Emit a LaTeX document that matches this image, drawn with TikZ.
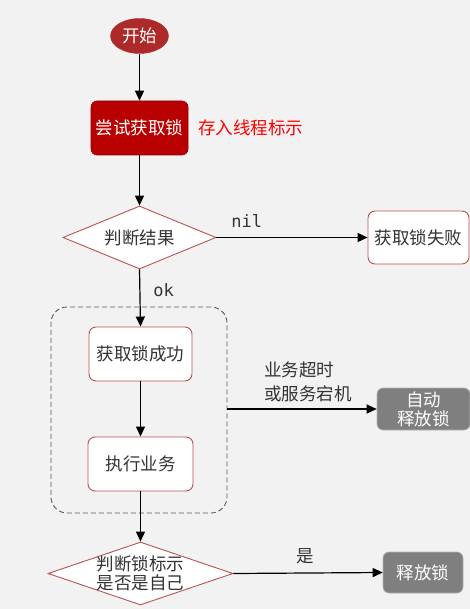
\documentclass[tikz,border=0pt]{standalone}
\usepackage{fontspec}
\setmainfont{Noto Sans CJK SC}
\newfontfamily\monof{DejaVu Sans Mono}
\usetikzlibrary{shapes.geometric,arrows.meta,positioning}
\definecolor{bg}{HTML}{F2F2F2}
\definecolor{txt}{HTML}{333333}
\definecolor{redb}{HTML}{B85450}
\definecolor{startc}{HTML}{AE2A2A}
\definecolor{tryc}{HTML}{B80000}
\definecolor{grayc}{HTML}{7F7F7F}
\tikzset{
  every node/.style={font=\fontsize{17.5}{20}\selectfont, text=txt},
  box/.style={draw=redb, fill=white, rounded corners=7pt, line width=0.9pt, inner sep=0pt},
  graybox/.style={draw=gray!60, fill=grayc, rounded corners=6pt, line width=0.6pt, inner sep=0pt, text=white, align=center},
  dia/.style={diamond, draw=redb, fill=white, line width=0.9pt, inner sep=0pt},
  arr/.style={draw=black, line width=1.2pt, -{Triangle[length=10pt,width=9pt]}},
  lbl/.style={text=txt, inner sep=0pt}
}
\begin{document}
\begin{tikzpicture}[x=1pt,y=-1pt]
\fill[bg] (0,0) rectangle (470,609);
\useasboundingbox (0,0) rectangle (470,609);
% start
\node[ellipse, fill=startc, draw=startc, text=white, minimum width=58pt, minimum height=35pt, inner sep=0pt] (start) at (139.5,36) {开始};
% try
\node[draw=tryc!80!black, fill=tryc, rounded corners=6pt, line width=0.6pt, text=white, minimum width=97pt, minimum height=54pt, inner sep=0pt] (try) at (139.5,128) {尝试获取锁};
\node[lbl, text=red, anchor=west] (store) at (198,128) {存入线程标示};
% diamond 1
\node[dia, minimum width=153pt, minimum height=63pt, shape aspect=2.43] (d1) at (139.5,237.5) {};
\node[lbl] (d1t) at (139.5,237.5) {判断结果};
% fail
\node[box, minimum width=101pt, minimum height=53pt] (fail) at (418.5,237.5) {获取锁失败};
% group
\node[draw=gray!70!black, dashed, dash pattern=on 5pt off 3pt, rounded corners=16pt, line width=0.9pt, minimum width=176pt, minimum height=206pt, inner sep=0pt] (grp) at (139,410) {};
% success
\node[box, minimum width=103pt, minimum height=54pt] (succ) at (140.5,354) {获取锁成功};
% exec
\node[box, minimum width=105pt, minimum height=54pt] (exec) at (140.5,464) {执行业务};
% auto release
\node[graybox, minimum width=93pt, minimum height=42pt, font=\fontsize{17.5}{19}\selectfont] (auto) at (423.5,409) {自动\\释放锁};
% diamond 2
\node[dia, minimum width=185pt, minimum height=63pt, shape aspect=2.94] (d2) at (140.5,573.5) {};
\node[lbl, align=center, font=\fontsize{17.5}{19}\selectfont] (d2t) at (140.5,573) {判断锁标示\\是否是自己};
% release
\node[graybox, minimum width=80pt, minimum height=41pt] (rel) at (423,572.5) {释放锁};
% connectors
\draw[arr] (start) -- (try);
\draw[arr] (try) -- (d1);
\draw[arr] (d1.east) -- (fail.west) node[lbl, pos=0.2, above=9pt, font=\monof\fontsize{17}{19}\selectfont] (nil) {nil};
\draw[arr] (d1.south) -- (succ.north) node[lbl, pos=0.36, right=13pt, font=\monof\fontsize{17}{19}\selectfont] (ok) {ok};
\draw[arr] (succ) -- (exec);
\draw[arr] (exec.south) -- (d2.north);
\coordinate (gout) at (grp.east |- auto.west);
\draw[arr] (gout) -- (auto.west);
\node[lbl, align=left, anchor=west, font=\fontsize{17.5}{24}\selectfont] (why) at (264,382) {业务超时\\或服务宕机};
\draw[arr] (d2.east) -- (rel.west) node[lbl, pos=0.48, above=9pt] (yes) {是};
\end{tikzpicture}
\end{document}
